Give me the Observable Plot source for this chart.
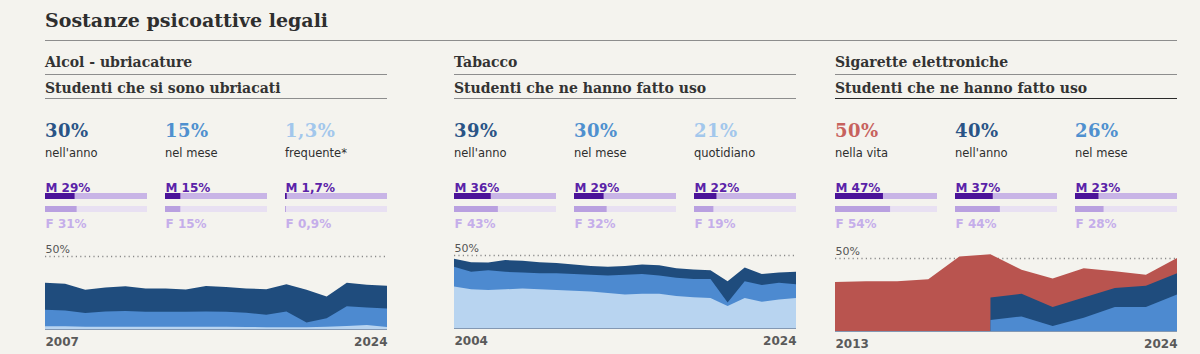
<!DOCTYPE html>
<html><head><meta charset="utf-8">
<script src="https://cdn.jsdelivr.net/npm/d3@7"></script>
<script src="https://cdn.jsdelivr.net/npm/@observablehq/plot@0.6"></script>
<style>
html,body{margin:0;padding:0;background:#f4f3ee;}
#root{position:relative;width:1200px;height:354px;overflow:hidden;font-family:"DejaVu Sans",sans-serif;}
.abs{position:absolute;white-space:nowrap;line-height:1;}
.serif{font-family:"DejaVu Serif",serif;font-weight:bold;color:#333;}
.rule{position:absolute;height:0;border-top:1.5px solid #8d8d8d;}
svg{position:absolute;overflow:visible;background:transparent;}
</style></head><body><div id="root"></div>
<script>
// ---------- DATA ----------
const title = "Sostanze psicoattive legali";
const panelTitles = ["Alcol - ubriacature", "Tabacco", "Sigarette elettroniche"];
const panelSubtitles = ["Studenti che si sono ubriacati", "Studenti che ne hanno fatto uso", "Studenti che ne hanno fatto uso"];

const statValues = [["30%", "15%", "1,3%"], ["39%", "30%", "21%"], ["50%", "40%", "26%"]];
const statLabels = [["nell'anno", "nel mese", "frequente*"], ["nell'anno", "nel mese", "quotidiano"], ["nella vita", "nell'anno", "nel mese"]];
const maleShare = [[29, 15, 1.7], [36, 29, 22], [47, 37, 23]];
const femaleShare = [[31, 15, 0.9], [43, 32, 19], [54, 44, 28]];

const axisLabel = "50%";

const alcolYears = [2007, 2008, 2009, 2010, 2011, 2012, 2013, 2014, 2015, 2016, 2017, 2018, 2019, 2020, 2021, 2022, 2023, 2024];
const alcolAnno = [31.7, 31, 26.9, 28.5, 29.2, 27.8, 27.8, 27, 29.4, 28.7, 27.8, 27.3, 30.6, 26.9, 22.3, 31.7, 30.3, 29.6];
const alcolMese = [13.2, 12.7, 10.9, 12, 12.3, 11.8, 11.8, 11.8, 12, 11.8, 11.1, 9.7, 12, 4.4, 7.4, 15.5, 14.8, 14];
const alcolFrequente = [1.8, 1.8, 1.5, 1.5, 1.5, 1.5, 1.5, 1.5, 1.5, 1.5, 1.4, 1.2, 1.2, 1.2, 1.5, 2, 2.8, 1.3];

const tabaccoYears = [2004, 2005, 2006, 2007, 2008, 2009, 2010, 2011, 2012, 2013, 2014, 2015, 2016, 2017, 2018, 2019, 2020, 2021, 2022, 2023, 2024];
const tabaccoAnno = [47.5, 45, 44.8, 46.5, 46, 45, 44.5, 43.5, 42.5, 42, 42.5, 43.5, 43, 41, 40, 39.5, 32, 41.5, 37, 38, 38.5];
const tabaccoMese = [42, 38.5, 39.5, 38.5, 38, 37.5, 37.5, 37, 36.5, 36, 36.5, 37, 36, 34.5, 33.5, 33.5, 17.5, 32, 29.5, 31, 30];
const tabaccoQuotidiano = [28.5, 26.5, 26, 26.5, 27, 26.5, 26, 25.5, 25, 24, 23, 23.5, 23.5, 22, 21, 20.5, 15, 20.5, 18, 19.5, 20.5];

const ecigYears = [2013, 2014, 2015, 2016, 2017, 2018, 2019, 2020, 2021, 2022, 2023, 2024];
const ecigVita = [33.5, 34, 34, 35.5, 51, 52.5, 42, 36, 43, 41, 38.5, 50];
const ecigAnno = [null, null, null, null, null, 23, 25.5, 16.5, 23, 29.5, 31, 39.5];
const ecigMese = [null, null, null, null, null, 7.5, 10, 3.5, 9, 16.5, 16.5, 25];

// ---------- STYLE ----------
const C = {
  navy: "#1f4c7d", mid: "#4d8ad0", light: "#b8d4f0", red: "#b9544f",
  numNavy: "#2a5486", numMid: "#4f90cf", numLight: "#a2c7ec", numRed: "#c7625d",
  mText: "#5a22a8", mBar: "#4b1399", mTrack: "#c8b4e6",
  fText: "#c5aeea", fBar: "#b9a0e0", fTrack: "#e8e0f2"
};
const numColors = [[C.numNavy, C.numMid, C.numLight], [C.numNavy, C.numMid, C.numLight], [C.numRed, C.numNavy, C.numMid]];
const panelLeft = [45, 454, 835];
const panelW = 342;
const colOffset = [0, 120, 240];
const trackW = 102;

const root = document.getElementById("root");
function addText(txt, x, top, cls, style) {
  const d = document.createElement("div");
  d.className = "abs " + (cls || "");
  d.textContent = txt;
  d.style.left = x + "px"; d.style.top = top + "px";
  Object.assign(d.style, style || {});
  root.appendChild(d); return d;
}
function addRule(x, y, w, color) {
  const d = document.createElement("div");
  d.className = "rule";
  d.style.left = x + "px"; d.style.top = y + "px"; d.style.width = w + "px";
  if (color) d.style.borderTopColor = color;
  root.appendChild(d);
}
function place(svg, x, y) { svg.style.left = x + "px"; svg.style.top = y + "px"; root.appendChild(svg); }
const fmt = v => String(v).replace(".", ",") + "%";

// title
addText(title, 45, 10.5, "serif", {fontSize: "19px", color: "#2e2e2e"});
addRule(45, 39.5, 1132);

panelTitles.forEach((t, p) => {
  const x0 = panelLeft[p];
  addText(t, x0, 55, "serif", {fontSize: "14px"});
  addRule(x0, 73.5, panelW);
  addText(panelSubtitles[p], x0, 80.5, "serif", {fontSize: "14px"});
  addRule(x0, 97.5, panelW, p === 2 ? "#2a2a2a" : null);

  for (let c = 0; c < 3; c++) {
    const cx = x0 + colOffset[c];
    addText(statValues[p][c], cx, 121.5, "serif", {fontSize: "18px", color: numColors[p][c], letterSpacing: "0.5px"});
    addText(statLabels[p][c], cx, 148, "", {fontSize: "11.5px", color: "#2e2e2e"});

    const rows = [
      {g: "M", v: maleShare[p][c]},
      {g: "F", v: femaleShare[p][c]}
    ];
    const bars = Plot.plot({
      width: trackW, height: 52,
      marginLeft: 0, marginRight: 0, marginTop: 15, marginBottom: 18,
      x: {domain: [0, 100], axis: null},
      y: {domain: ["M", "F"], axis: null, paddingInner: 0.54, paddingOuter: 0},
      style: {background: "transparent", overflow: "visible"},
      marks: [
        Plot.barX(rows, {x: 100, y: "g", fill: d => d.g === "M" ? C.mTrack : C.fTrack}),
        Plot.barX(rows, {x: "v", y: "g", fill: d => d.g === "M" ? C.mBar : C.fBar}),
        Plot.text(rows.filter(d => d.g === "M"), {y: "g", frameAnchor: "left", textAnchor: "start", lineAnchor: "bottom", dy: -4.5,
          text: d => d.g + " " + fmt(d.v), fill: C.mText, fontWeight: "bold", fontSize: 12, fontFamily: "DejaVu Sans", letterSpacing: "0.2px"}),
        Plot.text(rows.filter(d => d.g === "F"), {y: "g", frameAnchor: "left", textAnchor: "start", lineAnchor: "bottom", dy: 18,
          text: d => d.g + " " + fmt(d.v), fill: C.fText, fontWeight: "bold", fontSize: 12, fontFamily: "DejaVu Sans", letterSpacing: "0.2px"})
      ]
    });
    place(bars, cx, 178);
  }
});

// area charts
function series(years, vals, key) {
  return years.map((y, i) => ({year: y, v: vals[i], s: key})).filter(d => d.v != null);
}
function areaChart(years, layers, top, left) {
  const first = years[0], last = years[years.length - 1];
  const marks = [
    Plot.ruleY([50], {stroke: "#8a8a8a", strokeDasharray: "1.2 3.2", strokeWidth: 1.3})
  ];
  layers.forEach(l => marks.push(Plot.areaY(series(years, l.vals, l.key), {x: "year", y: "v", fill: l.color})));
  marks.push(Plot.ruleY([0], {stroke: "#8398b3", strokeWidth: 1.2}));
  marks.push(Plot.text([axisLabel], {x: first, y: 50, textAnchor: "start", lineAnchor: "bottom", dy: -3.5, fill: "#555", fontSize: 11, fontFamily: "DejaVu Sans"}));
  marks.push(Plot.text([first], {x: first, y: 0, textAnchor: "start", lineAnchor: "top", dy: 8, fill: "#5a5a5a", fontSize: 12, fontWeight: 600, fontFamily: "DejaVu Sans", text: d => String(d)}));
  marks.push(Plot.text([last], {x: last, y: 0, textAnchor: "end", lineAnchor: "top", dy: 8, fill: "#5a5a5a", fontSize: 12, fontWeight: 600, fontFamily: "DejaVu Sans", text: d => String(d)}));
  const svg = Plot.plot({
    width: panelW, height: 110,
    marginLeft: 0, marginRight: 0, marginTop: 16, marginBottom: 21,
    x: {domain: [first, last], axis: null},
    y: {domain: [0, 50], axis: null},
    style: {background: "transparent", overflow: "visible"},
    marks
  });
  place(svg, left, top);
}

areaChart(alcolYears, [
  {key: "anno", vals: alcolAnno, color: C.navy},
  {key: "mese", vals: alcolMese, color: C.mid},
  {key: "freq", vals: alcolFrequente, color: C.light}
], 240, panelLeft[0]);

areaChart(tabaccoYears, [
  {key: "anno", vals: tabaccoAnno, color: C.navy},
  {key: "mese", vals: tabaccoMese, color: C.mid},
  {key: "quot", vals: tabaccoQuotidiano, color: C.light}
], 239, panelLeft[1]);

areaChart(ecigYears, [
  {key: "vita", vals: ecigVita, color: C.red},
  {key: "anno", vals: ecigAnno, color: C.navy},
  {key: "mese", vals: ecigMese, color: C.mid}
], 242, panelLeft[2]);
</script></body></html>
